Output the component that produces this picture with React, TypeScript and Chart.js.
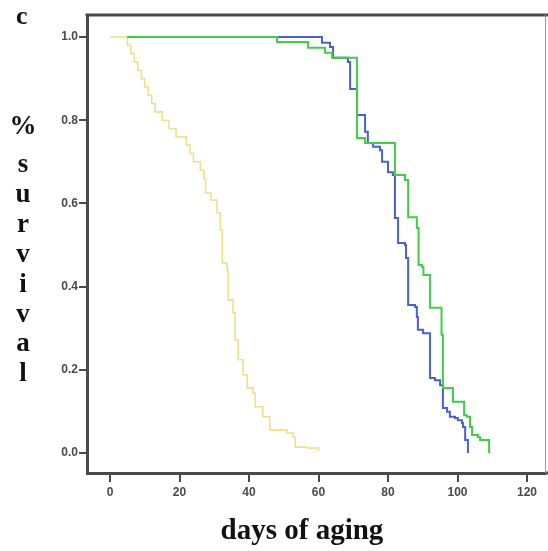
import React, { useEffect, useRef } from 'react';
import { Chart, registerables } from 'chart.js';

Chart.register(...registerables);

// ---- data ----
const xTickValues = [0, 20, 40, 60, 80, 100, 120];
const yTickValues = [0, 0.2, 0.4, 0.6, 0.8, 1.0];

const yellowDays = [0, 5, 6, 7, 8, 9, 10, 11, 12, 13, 15, 17, 19, 22, 23, 24, 26, 27, 27.5, 29, 30.8, 31.7, 32.3, 33.7, 34, 35.4, 36, 36.9, 38.3, 39.5, 41.2, 41.8, 44, 46, 51, 52.7, 53.3, 56.8, 60];
const yellowSurvival = [1, 0.98, 0.96, 0.94, 0.92, 0.9, 0.88, 0.86, 0.84, 0.82, 0.8, 0.78, 0.76, 0.74, 0.72, 0.7, 0.68, 0.66, 0.625, 0.608, 0.577, 0.536, 0.457, 0.44, 0.368, 0.337, 0.272, 0.224, 0.188, 0.156, 0.144, 0.111, 0.087, 0.055, 0.048, 0.038, 0.014, 0.012, 0.005];

const blueDays = [5, 61.0, 63.3, 64.2, 68.5, 69.1, 71.1, 73.4, 74.2, 75.7, 77.7, 78.3, 80.0, 81.4, 82.0, 82.9, 84.9, 85.2, 85.8, 87.8, 88.3, 88.6, 90.1, 92.1, 93.5, 95.0, 95.8, 97.0, 97.8, 99.3, 100.1, 101.3, 101.6, 102.2, 103.0];
const blueSurvival = [1, 0.986, 0.976, 0.95, 0.94, 0.875, 0.8125, 0.772, 0.745, 0.736, 0.728, 0.7, 0.675, 0.668, 0.565, 0.505, 0.5, 0.469, 0.356, 0.351, 0.327, 0.296, 0.288, 0.18, 0.175, 0.163, 0.108, 0.099, 0.087, 0.084, 0.079, 0.072, 0.0625, 0.031, 0];

const greenDays = [5, 48.1, 57.0, 61.9, 63.9, 71.1, 73.4, 82.0, 84.9, 85.8, 88.3, 88.8, 89.8, 90.2, 92.1, 95.4, 95.8, 98.7, 101.9, 102.7, 103.6, 104.2, 105.9, 106.5, 109.1];
const greenSurvival = [1, 0.988, 0.974, 0.962, 0.95, 0.757, 0.745, 0.668, 0.656, 0.567, 0.541, 0.452, 0.447, 0.428, 0.349, 0.284, 0.156, 0.123, 0.091, 0.087, 0.0625, 0.043, 0.038, 0.031, 0];

const X_MIN = -6.62;
const X_MAX = 125.18;
const Y_MIN = -0.0481;
const Y_MAX = 1.0529;

const AXIS_COLOR = '#4a4a4a';
const TICK_FONT = { family: "'Liberation Sans', Arial, sans-serif", size: 12, weight: 'bold' };
const SERIF = "'Liberation Serif', 'Times New Roman', serif";

const framePlugin = {
  id: 'frame',
  afterDraw(chart: any) {
    const { ctx, chartArea } = chart;
    const { left, right, top, bottom } = chartArea;
    ctx.save();
    ctx.strokeStyle = AXIS_COLOR;
    ctx.lineWidth = 3;
    ctx.beginPath();
    ctx.moveTo(left - 1.5, top);
    ctx.lineTo(chart.width, top);
    ctx.stroke();
    ctx.beginPath();
    ctx.moveTo(right, bottom);
    ctx.lineTo(chart.width, bottom);
    ctx.stroke();
    ctx.strokeStyle = '#9a9a9a';
    ctx.lineWidth = 1;
    ctx.beginPath();
    ctx.moveTo(right + 0.5, top);
    ctx.lineTo(right + 0.5, bottom);
    ctx.stroke();
    ctx.restore();
  },
};

export default function App() {
  const ref = useRef<HTMLCanvasElement>(null);

  useEffect(() => {
    const toPts = (d: number[], s: number[]) => d.map((x, i) => ({ x, y: s[i] }));
    const chart = new Chart(ref.current as HTMLCanvasElement, {
      type: 'line',
      data: {
        datasets: [
          { label: 'green', data: toPts(greenDays, greenSurvival), borderColor: '#3fcf45', borderWidth: 2, stepped: true, pointRadius: 0, fill: false },
          { label: 'blue', data: toPts(blueDays, blueSurvival), borderColor: '#4a5fd2', borderWidth: 2, stepped: true, pointRadius: 0, fill: false },
          { label: 'yellow', data: toPts(yellowDays, yellowSurvival), borderColor: '#efe08c', borderWidth: 1.6, stepped: true, pointRadius: 0, fill: false },
        ],
      },
      options: {
        animation: false,
        responsive: false,
        maintainAspectRatio: false,
        layout: { padding: { left: 0, top: 15, right: 3, bottom: 0 } },
        plugins: { legend: { display: false }, tooltip: { enabled: false } },
        scales: {
          x: {
            type: 'linear',
            min: X_MIN,
            max: X_MAX,
            afterFit: (s: any) => { s.height = 78; },
            afterBuildTicks: (s: any) => { s.ticks = xTickValues.map((v) => ({ value: v })); },
            grid: { display: true, drawOnChartArea: false, drawTicks: true, tickLength: 9, color: AXIS_COLOR, lineWidth: 2 },
            border: { display: true, color: AXIS_COLOR, width: 3 },
            ticks: { font: TICK_FONT, color: '#4a4a4a', padding: 3, maxRotation: 0, autoSkip: false, callback: (v: any) => String(v) },
          },
          y: {
            type: 'linear',
            min: Y_MIN,
            max: Y_MAX,
            afterFit: (s: any) => { s.width = 87; },
            afterBuildTicks: (s: any) => { s.ticks = yTickValues.map((v) => ({ value: v })); },
            grid: { display: true, drawOnChartArea: false, drawTicks: true, tickLength: 8, color: AXIS_COLOR, lineWidth: 2 },
            border: { display: true, color: AXIS_COLOR, width: 3 },
            ticks: { font: TICK_FONT, color: '#4a4a4a', padding: 1, autoSkip: false, callback: (v: any) => Number(v).toFixed(1) },
          },
        },
      },
      plugins: [framePlugin],
    } as any);
    return () => chart.destroy();
  }, []);

  const letterStyle: React.CSSProperties = {
    position: 'absolute',
    left: 3,
    width: 40,
    textAlign: 'center',
    fontFamily: SERIF,
    fontWeight: 'bold',
    fontSize: 27,
    lineHeight: '29.9px',
    whiteSpace: 'pre',
    color: '#111',
  };

  return (
    <div style={{ position: 'fixed', left: 0, top: 0, width: 548, height: 551, background: '#fff', overflow: 'hidden' }}>
      <canvas ref={ref} width={548} height={551} style={{ display: 'block', width: 548, height: 551 }} />
      <div style={{ position: 'absolute', left: 16, top: 3, fontFamily: SERIF, fontWeight: 'bold', fontSize: 26, lineHeight: '26px', color: '#111' }}>c</div>
      <div style={{ ...letterStyle, top: 111 }}>%</div>
      <div style={{ ...letterStyle, top: 149 }}>{'s\nu\nr\nv\ni\nv\na\nl'}</div>
      <div style={{ position: 'absolute', left: 302, top: 515, transform: 'translateX(-50%)', whiteSpace: 'nowrap', fontFamily: SERIF, fontWeight: 'bold', fontSize: 29, lineHeight: '29px', color: '#111' }}>days of aging</div>
    </div>
  );
}
